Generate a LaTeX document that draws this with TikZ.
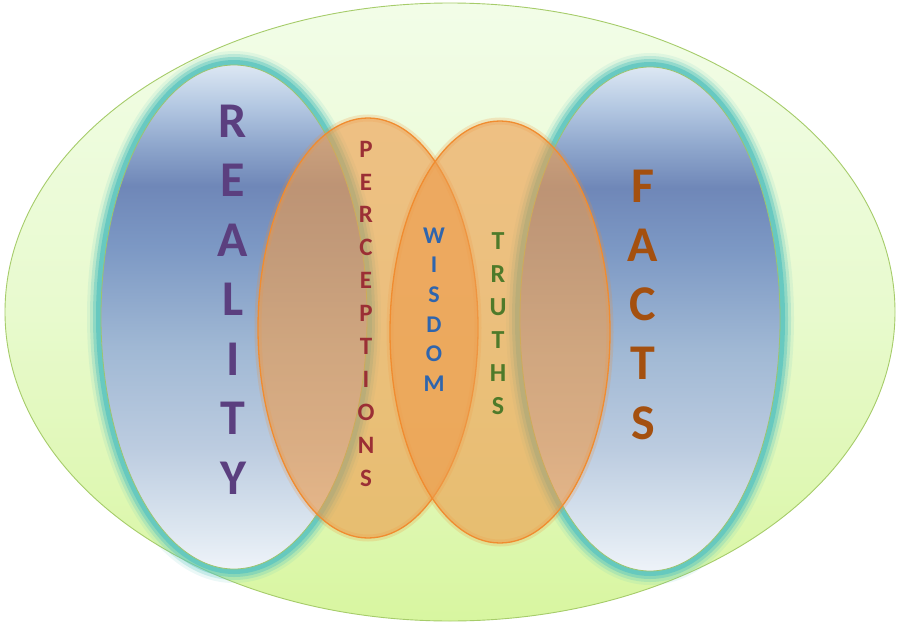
\documentclass[tikz,border=0pt]{standalone}
\usepackage{fontspec}
\setmainfont{Carlito}
\definecolor{outtop}{HTML}{F2FDE8}
\definecolor{outmid}{HTML}{E8FACE}
\definecolor{outbot}{HTML}{D8F6A0}
\definecolor{outline}{HTML}{A6CC6A}
\definecolor{bA}{HTML}{EEF3F9}
\definecolor{bB}{HTML}{DCE6F0}
\definecolor{bC}{HTML}{BCCCE0}
\definecolor{bD}{HTML}{A0B8D4}
\definecolor{bE}{HTML}{7C98C4}
\definecolor{bF}{HTML}{6F87B8}
\definecolor{bG}{HTML}{8EA6CC}
\definecolor{bH}{HTML}{B4C8E2}
\definecolor{bI}{HTML}{DCE7F3}
\definecolor{tealglow}{HTML}{5EC6C0}
\definecolor{blueline}{HTML}{9CC470}
\definecolor{orfill}{HTML}{EE9C4C}
\definecolor{orline}{HTML}{F08C30}
\definecolor{creality}{HTML}{5B3F7F}
\definecolor{cperc}{HTML}{9B2F35}
\definecolor{cwis}{HTML}{2F65AD}
\definecolor{ctruth}{HTML}{4E7A2A}
\definecolor{cfacts}{HTML}{A4500F}
\pgfdeclareverticalshading{outergrad}{100bp}{color(0bp)=(outbot); color(25bp)=(outbot); color(50bp)=(outmid); color(75bp)=(outtop); color(100bp)=(outtop)}
\pgfdeclareverticalshading{bluegrad}{100bp}{color(0bp)=(bA); color(25bp)=(bA); color(29bp)=(bB); color(37bp)=(bC); color(47bp)=(bD); color(57bp)=(bE); color(63bp)=(bF); color(67bp)=(bG); color(71bp)=(bH); color(75bp)=(bI); color(100bp)=(bI)}
\tikzset{
  letterbig/.style={inner sep=0pt, font=\fontsize{50}{60}\selectfont\bfseries},
  lettersmall/.style={inner sep=0pt, font=\fontsize{25}{30}\selectfont\bfseries},
  tealring/.style={draw=tealglow},
  orangeglow/.style={draw=orline, line width=7pt, opacity=0.2},
  orangebody/.style={fill=orfill, fill opacity=0.62, draw=orline, line width=1.3pt},
}
\begin{document}
\begin{tikzpicture}[x=1pt,y=-1pt]
\useasboundingbox (0,0) rectangle (900,640);
\fill[white] (0,0) rectangle (900,640);
% outer ellipse
\coordinate (oc) at (450,312);
\shade[shading=outergrad] (oc) ellipse [x radius=445, y radius=309];
\draw[outline, line width=0.9pt] (oc) ellipse [x radius=445, y radius=309];
% blue ellipses
\coordinate (lb) at (234,317);
\coordinate (rb) at (650,319);
\foreach \c/\rx in {lb/133, rb/130}{
  \foreach \w/\o in {28/0.12, 22/0.25, 16/0.45, 10/0.8}{
    \draw[tealring, line width=\w pt, opacity=\o] (\c) ellipse [x radius=\rx, y radius=252];
  }
  \shade[shading=bluegrad] (\c) ellipse [x radius=\rx, y radius=252];
  \draw[blueline, line width=0.8pt] (\c) ellipse [x radius=\rx, y radius=252];
}
% orange ellipses
\coordinate (lo) at (368,328);
\coordinate (ro) at (500,332);
\draw[orangeglow] (lo) ellipse [x radius=110, y radius=210];
\draw[orangeglow] (ro) ellipse [x radius=110, y radius=211];
\path[orangebody] (lo) ellipse [x radius=110, y radius=210];
\path[orangebody] (ro) ellipse [x radius=110, y radius=211];
% texts
\foreach \l [count=\i] in {R,E,A,L,I,T,Y}
  \node[letterbig, text=creality] (real\i) at (233, {121+59.5*(\i-1)}) {\l};
\foreach \l [count=\i] in {F,A,C,T,S}
  \node[letterbig, text=cfacts] (fact\i) at (643, {186+59.25*(\i-1)}) {\l};
\foreach \l [count=\i] in {P,E,R,C,E,P,T,I,O,N,S}
  \node[lettersmall, text=cperc] (perc\i) at (366, {149+32.9*(\i-1)}) {\l};
\foreach \l [count=\i] in {W,I,S,D,O,M}
  \node[lettersmall, font=\fontsize{24}{28}\selectfont\bfseries, text=cwis] (wis\i) at (434, {235.5+29.6*(\i-1)}) {\l};
\foreach \l [count=\i] in {T,R,U,T,H,S}
  \node[lettersmall, font=\fontsize{26}{30}\selectfont\bfseries, text=ctruth] (tru\i) at (498, {241+33*(\i-1)}) {\l};
\end{tikzpicture}
\end{document}
